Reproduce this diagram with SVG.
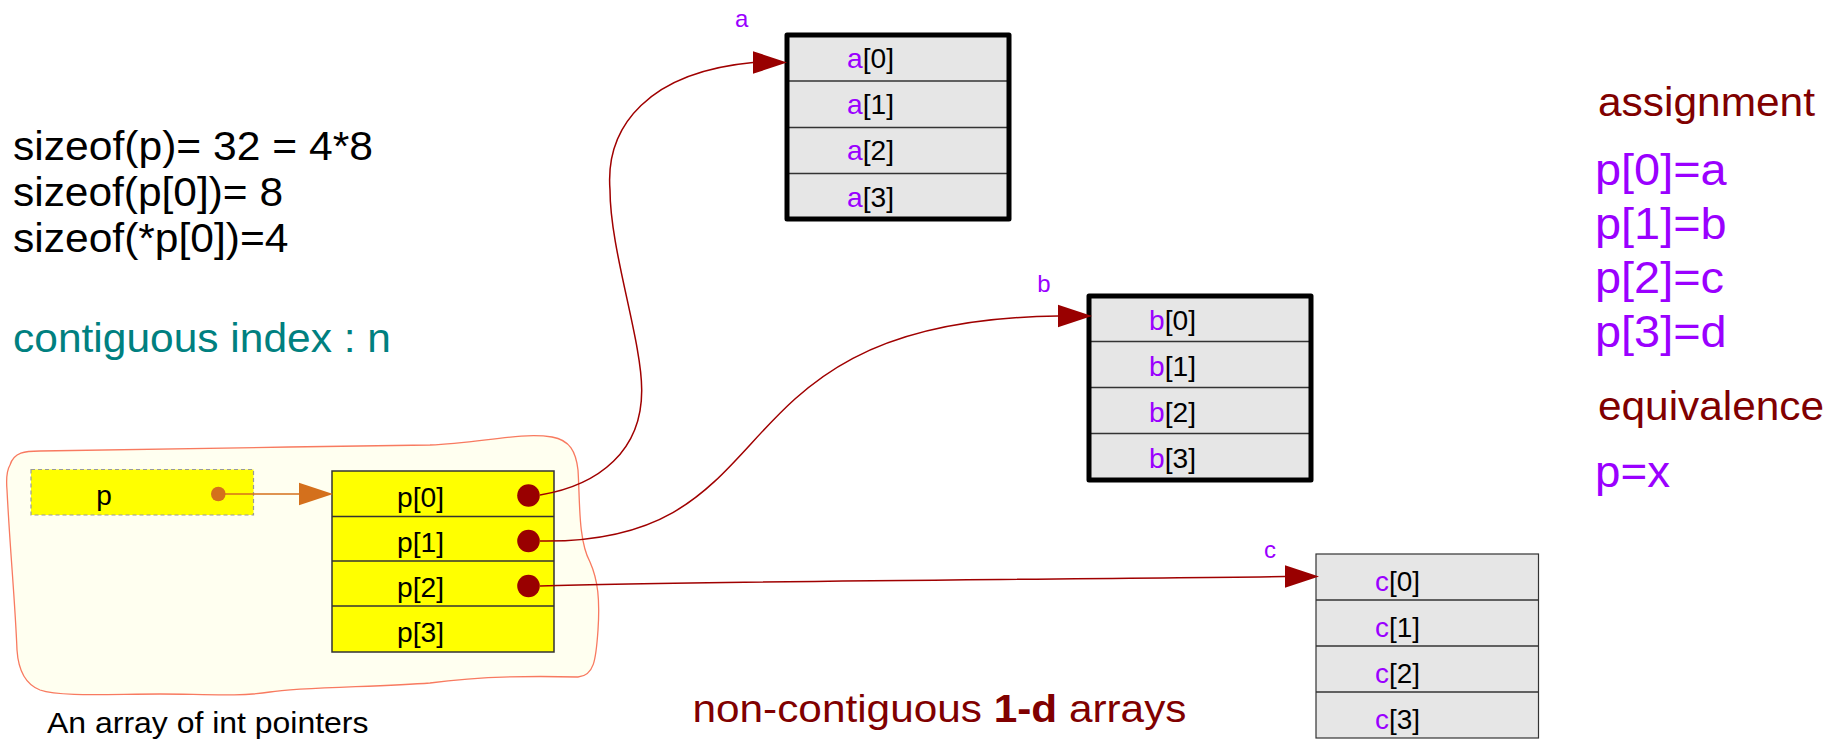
<svg xmlns="http://www.w3.org/2000/svg" width="1840" height="739" viewBox="0 0 1840 739">
  <style>
    text { font-family: "Liberation Sans", Arial, sans-serif; }
    .cell { fill: #e6e6e6; stroke: none; }
    .div { stroke: #333333; stroke-width: 1.5; }
    .frame-thick { fill: none; stroke: #000000; stroke-width: 5; stroke-linejoin: round; }
    .frame-thin { fill: none; stroke: #333333; stroke-width: 1.2; }
    .ct { font-size: 28px; fill: #000000; }
    .ix { fill: #9a00ff; }
    .lbl { font-size: 24px; fill: #9a00ff; text-anchor: middle; }
    .note { font-size: 40.5px; fill: #000000; }
    .head { font-size: 40.5px; fill: #800000; }
    .asg { font-size: 44px; fill: #9a00ff; }
    .ptr { fill: none; stroke: #a00000; stroke-width: 1.5; }
    .dot { fill: #990000; }
  </style>
  <defs>
    <marker id="head-red" markerUnits="userSpaceOnUse" markerWidth="34" markerHeight="24" viewBox="0 0 33 22" refX="0" refY="11" orient="0">
      <polygon points="0,0 33,11 0,22" fill="#990000"/>
    </marker>
    <marker id="head-orange" markerUnits="userSpaceOnUse" markerWidth="34" markerHeight="24" viewBox="0 0 33 22" refX="0" refY="11" orient="0">
      <polygon points="0,0 33,11 0,22" fill="#d4701c"/>
    </marker>
  </defs>
  <rect width="1840" height="739" fill="#ffffff"/>

  <!-- wavy container around the pointer variable and its array -->
  <g id="container">
    <path d="M 10 465 C 14 452, 25 451, 40 451 C 120 449, 300 447, 430 445 C 480 443, 520 432, 552 437 C 570 440, 576 452, 578 470 C 580 500, 578 540, 590 562 C 598 580, 600 600, 598 630 C 596 660, 594 676, 578 677 C 540 676, 480 676, 430 683 C 380 687, 300 687, 270 692 C 240 697, 200 694, 160 694 C 110 694, 60 697, 40 690 C 22 683, 18 665, 17 650 C 15 600, 10 550, 7 490 C 6 478, 7 470, 10 465 Z" fill="#fffff0" stroke="#f87a60" stroke-width="1.3"/>
    <text x="47" y="733" font-size="30px" fill="#000000" textLength="321.5" lengthAdjust="spacingAndGlyphs">An array of int pointers</text>
  </g>

  <!-- pointer variable p -->
  <g id="p-var">
    <rect x="31" y="469.5" width="222.5" height="45.5" fill="#ffff00" stroke="#999999" stroke-width="1.2" stroke-dasharray="4 3"/>
    <text x="104" y="505" class="ct" text-anchor="middle">p</text>
    <circle cx="218.3" cy="494" r="7.3" fill="#d4701c"/>
  </g>

  <!-- array of pointers p[0..3] -->
  <g id="p-array">
    <rect x="332" y="471" width="222" height="181" fill="#ffff00" stroke="#333333" stroke-width="1.5"/>
    <line class="div" x1="332" y1="516.5" x2="554" y2="516.5"/>
    <line class="div" x1="332" y1="561" x2="554" y2="561"/>
    <line class="div" x1="332" y1="606" x2="554" y2="606"/>
    <text x="397" y="506.5" class="ct" textLength="47" lengthAdjust="spacingAndGlyphs">p[0]</text>
    <text x="397" y="551.5" class="ct" textLength="47" lengthAdjust="spacingAndGlyphs">p[1]</text>
    <text x="397" y="596.5" class="ct" textLength="47" lengthAdjust="spacingAndGlyphs">p[2]</text>
    <text x="397" y="642" class="ct" textLength="47" lengthAdjust="spacingAndGlyphs">p[3]</text>
    <circle class="dot" cx="528.5" cy="495.5" r="11.3"/>
    <circle class="dot" cx="528.5" cy="541" r="11.3"/>
    <circle class="dot" cx="528.5" cy="586" r="11.3"/>
  </g>

  <!-- array a -->
  <g id="array-a">
    <text x="741.7" y="27" class="lbl">a</text>
    <rect class="cell" x="787" y="35" width="222" height="184"/>
    <line class="div" x1="787" y1="81" x2="1009" y2="81"/>
    <line class="div" x1="787" y1="127.5" x2="1009" y2="127.5"/>
    <line class="div" x1="787" y1="173.5" x2="1009" y2="173.5"/>
    <rect class="frame-thick" x="787" y="35" width="222" height="184"/>
    <text x="847" y="68.3" class="ct" textLength="47" lengthAdjust="spacingAndGlyphs"><tspan class="ix">a</tspan>[0]</text>
    <text x="847" y="114.3" class="ct" textLength="47" lengthAdjust="spacingAndGlyphs"><tspan class="ix">a</tspan>[1]</text>
    <text x="847" y="160.3" class="ct" textLength="47" lengthAdjust="spacingAndGlyphs"><tspan class="ix">a</tspan>[2]</text>
    <text x="847" y="206.5" class="ct" textLength="47" lengthAdjust="spacingAndGlyphs"><tspan class="ix">a</tspan>[3]</text>
  </g>

  <!-- array b -->
  <g id="array-b">
    <text x="1044" y="291.7" class="lbl">b</text>
    <rect class="cell" x="1089" y="296" width="222" height="184"/>
    <line class="div" x1="1089" y1="341.5" x2="1311" y2="341.5"/>
    <line class="div" x1="1089" y1="387.5" x2="1311" y2="387.5"/>
    <line class="div" x1="1089" y1="433.5" x2="1311" y2="433.5"/>
    <rect class="frame-thick" x="1089" y="296" width="222" height="184"/>
    <text x="1149" y="330" class="ct" textLength="47" lengthAdjust="spacingAndGlyphs"><tspan class="ix">b</tspan>[0]</text>
    <text x="1149" y="376" class="ct" textLength="47" lengthAdjust="spacingAndGlyphs"><tspan class="ix">b</tspan>[1]</text>
    <text x="1149" y="422" class="ct" textLength="47" lengthAdjust="spacingAndGlyphs"><tspan class="ix">b</tspan>[2]</text>
    <text x="1149" y="468" class="ct" textLength="47" lengthAdjust="spacingAndGlyphs"><tspan class="ix">b</tspan>[3]</text>
  </g>

  <!-- array c -->
  <g id="array-c">
    <text x="1270" y="558" class="lbl">c</text>
    <rect class="cell" x="1316" y="554" width="222.5" height="184"/>
    <line class="div" x1="1316" y1="600" x2="1538.5" y2="600"/>
    <line class="div" x1="1316" y1="646" x2="1538.5" y2="646"/>
    <line class="div" x1="1316" y1="692" x2="1538.5" y2="692"/>
    <rect class="frame-thin" x="1316" y="554" width="222.5" height="184"/>
    <text x="1375" y="591" class="ct" textLength="45" lengthAdjust="spacingAndGlyphs"><tspan class="ix">c</tspan>[0]</text>
    <text x="1375" y="637" class="ct" textLength="45" lengthAdjust="spacingAndGlyphs"><tspan class="ix">c</tspan>[1]</text>
    <text x="1375" y="683" class="ct" textLength="45" lengthAdjust="spacingAndGlyphs"><tspan class="ix">c</tspan>[2]</text>
    <text x="1375" y="729" class="ct" textLength="45" lengthAdjust="spacingAndGlyphs"><tspan class="ix">c</tspan>[3]</text>
  </g>

  <!-- pointer connectors -->
  <g id="connectors">
    <path d="M 225 494 L 299 494" fill="none" stroke="#d4701c" stroke-width="1.5" marker-end="url(#head-orange)"/>
    <path class="ptr" d="M 540 495 C 600 485, 642 450, 641.7 390 C 641.7 340, 610 250, 610 190 C 605 125, 650 72, 753 62.5" marker-end="url(#head-red)"/>
    <path class="ptr" d="M 540 541 C 800 545, 700 320, 1058 316" marker-end="url(#head-red)"/>
    <path class="ptr" d="M 540 586 C 700 581, 1000 580, 1285 576.5" marker-end="url(#head-red)"/>
  </g>

  <!-- size notes -->
  <g id="notes-left">
    <text x="13" y="159.5" class="note" textLength="360" lengthAdjust="spacingAndGlyphs">sizeof(p)= 32 = 4*8</text>
    <text x="13" y="205.5" class="note" textLength="270" lengthAdjust="spacingAndGlyphs">sizeof(p[0])= 8</text>
    <text x="13" y="252" class="note" textLength="275.5" lengthAdjust="spacingAndGlyphs">sizeof(*p[0])=4</text>
    <text x="13" y="352" class="note" style="fill:#008080" textLength="378" lengthAdjust="spacingAndGlyphs">contiguous index : n</text>
  </g>

  <!-- assignment / equivalence notes -->
  <g id="notes-right">
    <text x="1598" y="116" class="head" textLength="217" lengthAdjust="spacingAndGlyphs">assignment</text>
    <text x="1595" y="185" class="asg" textLength="131.7" lengthAdjust="spacingAndGlyphs">p[0]=a</text>
    <text x="1595" y="238.5" class="asg" textLength="131.7" lengthAdjust="spacingAndGlyphs">p[1]=b</text>
    <text x="1595" y="292.5" class="asg" textLength="129" lengthAdjust="spacingAndGlyphs">p[2]=c</text>
    <text x="1595" y="346.5" class="asg" textLength="131.7" lengthAdjust="spacingAndGlyphs">p[3]=d</text>
    <text x="1598" y="420" class="head" textLength="226" lengthAdjust="spacingAndGlyphs">equivalence</text>
    <text x="1595" y="487" class="asg" textLength="75" lengthAdjust="spacingAndGlyphs">p=x</text>
  </g>

  <!-- caption -->
  <g id="caption">
    <text x="692.5" y="721.7" font-size="38px" fill="#800000" textLength="494" lengthAdjust="spacingAndGlyphs">non-contiguous <tspan font-weight="bold">1-d</tspan> arrays</text>
  </g>
</svg>
